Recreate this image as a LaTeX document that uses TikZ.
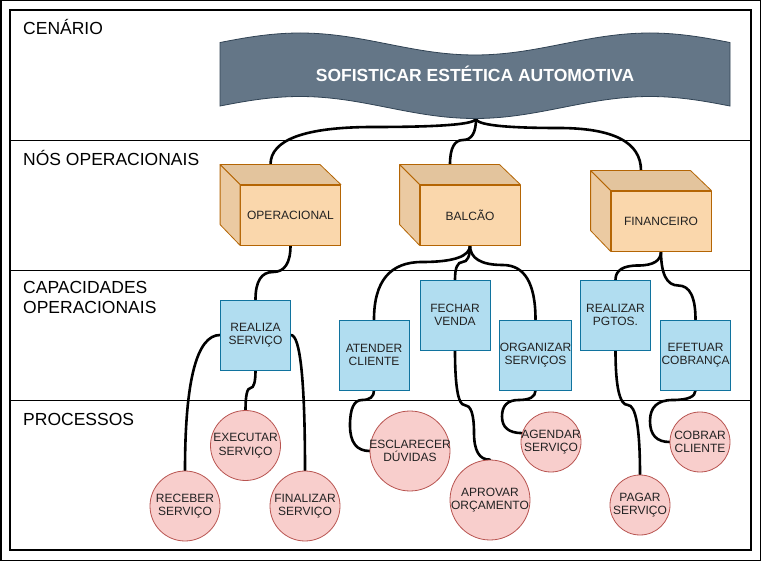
\documentclass[tikz,border=0pt]{standalone}
\usepackage{fontspec}
\setmainfont{Liberation Sans}
\usetikzlibrary{calc}
\definecolor{bannerfill}{HTML}{647687}
\definecolor{bannerline}{HTML}{314354}
\definecolor{cubefill}{HTML}{FAD7AC}
\definecolor{cubeline}{HTML}{B46504}
\definecolor{capfill}{HTML}{B1DDF0}
\definecolor{capline}{HTML}{10739E}
\definecolor{procfill}{HTML}{F8CECC}
\definecolor{procline}{HTML}{B85450}
\definecolor{txt}{HTML}{222222}
\pgfdeclarelayer{bg}
\pgfdeclarelayer{edges}
\pgfsetlayers{bg,edges,main}
\newcommand\opcube[4]{%
  \node[cubefront] (#1) at (#2,#3) {#4};
  \filldraw[cubeface, fill=cubefill!91!black] (#1.north west) -- ++(-20,-20) -- ++(100,0) -- (#1.north east) -- cycle;
  \filldraw[cubeface, fill=cubefill!94!black] (#1.north west) -- ++(-20,-20) -- ++(0,60) -- (#1.south west) -- cycle;
  \coordinate (#1top) at ($(#1.north)+(-20,-20)$);
}
\begin{document}
\begin{tikzpicture}[x=1pt,y=-1pt,
  lanelabel/.style={anchor=base west, font=\fontsize{17.5}{20}\selectfont, inner sep=0, align=left},
  cubefront/.style={draw=cubeline, fill=cubefill, line width=0.8pt, minimum width=100pt, minimum height=60pt, inner sep=0, text=txt, font=\fontsize{12}{13.5}\selectfont},
  cubeface/.style={draw=cubeline, line width=0.8pt, line join=round},
  capbox/.style={draw=capline, fill=capfill, line width=0.8pt, minimum width=70pt, minimum height=70pt, inner sep=0, align=center, text=txt, font=\fontsize{12}{13.5}\selectfont},
  proc/.style={circle, draw=procline, fill=procfill, line width=0.8pt, inner sep=0,
    label={[align=center, text=txt, font=\fontsize{12}{13.5}\selectfont]center:#1}},
  conn/.style={draw=black, line width=2.6pt, line cap=round}
]
\useasboundingbox (0,0) rectangle (761,561);
\begin{pgfonlayer}{bg}
  \fill[white] (0,0) rectangle (761,561);
  \draw[line width=1.5pt] (0.75,0.75) rectangle (760.25,560.25);
  \draw[line width=1.5pt] (10,10) rectangle (751,550);
  \draw[line width=0.8pt] (10,140) -- (751,140);
  \draw[line width=0.8pt] (10,270) -- (751,270);
  \draw[line width=0.8pt] (10,400) -- (751,400);
\end{pgfonlayer}

% lane labels
\node[lanelabel] (lcen) at (23,35) {CENÁRIO};
\node[lanelabel] (lnos) at (23,166) {NÓS OPERACIONAIS};
\node[lanelabel, anchor=north west] (lcap) at (23,281.5) {CAPACIDADES\\OPERACIONAIS};
\node[lanelabel] (lpro) at (23,426) {PROCESSOS};

% banner
\filldraw[fill=bannerfill, draw=bannerline, line width=0.8pt]
  plot[domain=220:730, samples=90] (\x,{44+11*cos((\x-475)*1.0285714)})
  -- plot[domain=730:220, samples=90] (\x,{107.5+11*cos((\x-475)*1.0285714)}) -- cycle;
\node[anchor=base, text=white, font=\fontsize{17.5}{20}\selectfont\bfseries, inner sep=0] (banner) at (475,82) {SOFISTICAR ESTÉTICA AUTOMOTIVA};
\coordinate (bannerb) at (476,118.5);

% operational nodes
\opcube{op}{290.5}{215}{OPERACIONAL}
\opcube{bal}{470}{215}{BALCÃO}
\opcube{fin}{661}{221}{FINANCEIRO}

% capabilities
\node[capbox] (rs) at (255.5,335) {REALIZA\\SERVIÇO};
\node[capbox] (ac) at (374,355) {ATENDER\\CLIENTE};
\node[capbox] (fv) at (455,315) {FECHAR\\VENDA};
\node[capbox] (os) at (535.5,355) {ORGANIZAR\\SERVIÇOS};
\node[capbox] (rp) at (615.5,315) {REALIZAR\\PGTOS.};
\node[capbox] (ec) at (695.5,355) {EFETUAR\\COBRANÇA};

% processes
\node[proc={EXECUTAR\\SERVIÇO}, minimum size=70pt] (ex) at (245.5,445.5) {};
\node[proc={RECEBER\\SERVIÇO}, minimum size=70pt] (rb) at (185,506) {};
\node[proc={FINALIZAR\\SERVIÇO}, minimum size=70pt] (fs) at (305,506) {};
\node[proc={ESCLARECER\\DÚVIDAS}, minimum size=80pt] (ed) at (410,451) {};
\node[proc={APROVAR\\ORÇAMENTO}, minimum size=80pt] (ao) at (490,500) {};
\node[proc={AGENDAR\\SERVIÇO}, minimum size=60pt] (ag) at (551,442) {};
\node[proc={PAGAR\\SERVIÇO}, minimum size=60pt] (pg) at (640,505) {};
\node[proc={COBRAR\\CLIENTE}, minimum size=60pt] (cc) at (700,442) {};

\begin{pgfonlayer}{edges}
  \draw[conn] (bannerb) .. controls (476,124.2) and (441.8,127) .. (373.3,127) .. controls (304.8,127) and (270.5,139.7) .. (optop);
  \draw[conn] (bannerb) .. controls (476,132.8) and (471.7,140) .. (463,140) .. controls (454.3,140) and (450,148.3) .. (baltop);
  \draw[conn] (bannerb) .. controls (476,124.8) and (503.5,128) .. (558.5,128) .. controls (613.5,128) and (641,142.3) .. (fintop);
  \draw[conn] (op.south) .. controls (290.5,263) and (284.7,272) .. (273,272) .. controls (261.3,272) and (255.5,281.3) .. (rs.north);
  \draw[conn] (bal.south) .. controls (470,256.3) and (454,262) .. (422,262) .. controls (390,262) and (374,281.3) .. (ac.north);
  \draw[conn] (bal.south) .. controls (470,256.3) and (467.5,262) .. (462.5,262) .. controls (457.5,262) and (455,268) .. (fv.north);
  \draw[conn] (bal.south) .. controls (470,258.3) and (480.9,265) .. (502.75,265) .. controls (524.6,265) and (535.5,283.3) .. (os.north);
  \draw[conn] (fin.south) .. controls (661,260.7) and (653.4,265.5) .. (638.25,265.5) .. controls (623.1,265.5) and (615.5,270.3) .. (rp.north);
  \draw[conn] (fin.south) .. controls (661,274) and (666.75,285.5) .. (678.25,285.5) .. controls (689.75,285.5) and (695.5,297) .. (ec.north);
  \draw[conn] (rs.west) .. controls (196.8,335) and (185,380.3) .. (rb.north);
  \draw[conn] (rs.south) .. controls (255.5,382) and (253.8,388) .. (250.5,388) .. controls (247.2,388) and (245.5,395.3) .. (ex.north);
  \draw[conn] (rs.east) .. controls (300.2,335) and (305,380.3) .. (fs.north);
  \draw[conn] (ac.south) .. controls (374,396.7) and (370,400) .. (362,400) .. controls (354,400) and (350,408.5) .. (350,425.5) .. controls (350,442.5) and (356.7,451) .. (ed.west);
  \draw[conn] (fv.south) .. controls (455,386.7) and (458.2,405) .. (464.5,405) .. controls (470.8,405) and (474,414.2) .. (474,432.5) .. controls (474,450.8) and (479.3,460) .. (ao.north);
  \draw[conn] (os.south) .. controls (535.5,396.7) and (529.9,400) .. (518.75,400) .. controls (507.6,400) and (502,405.5) .. (502,416.5) .. controls (502,427.5) and (508.8,433) .. (ag.163);
  \draw[conn] (rp.south) .. controls (615.5,386.7) and (619.6,405) .. (627.75,405) .. controls (635.9,405) and (640,428.3) .. (pg.north);
  \draw[conn] (ec.south) .. controls (695.5,396.7) and (687.9,400) .. (672.75,400) .. controls (657.6,400) and (650,407) .. (650,421) .. controls (650,435) and (656.7,442) .. (cc.west);
\end{pgfonlayer}
\end{tikzpicture}
\end{document}
